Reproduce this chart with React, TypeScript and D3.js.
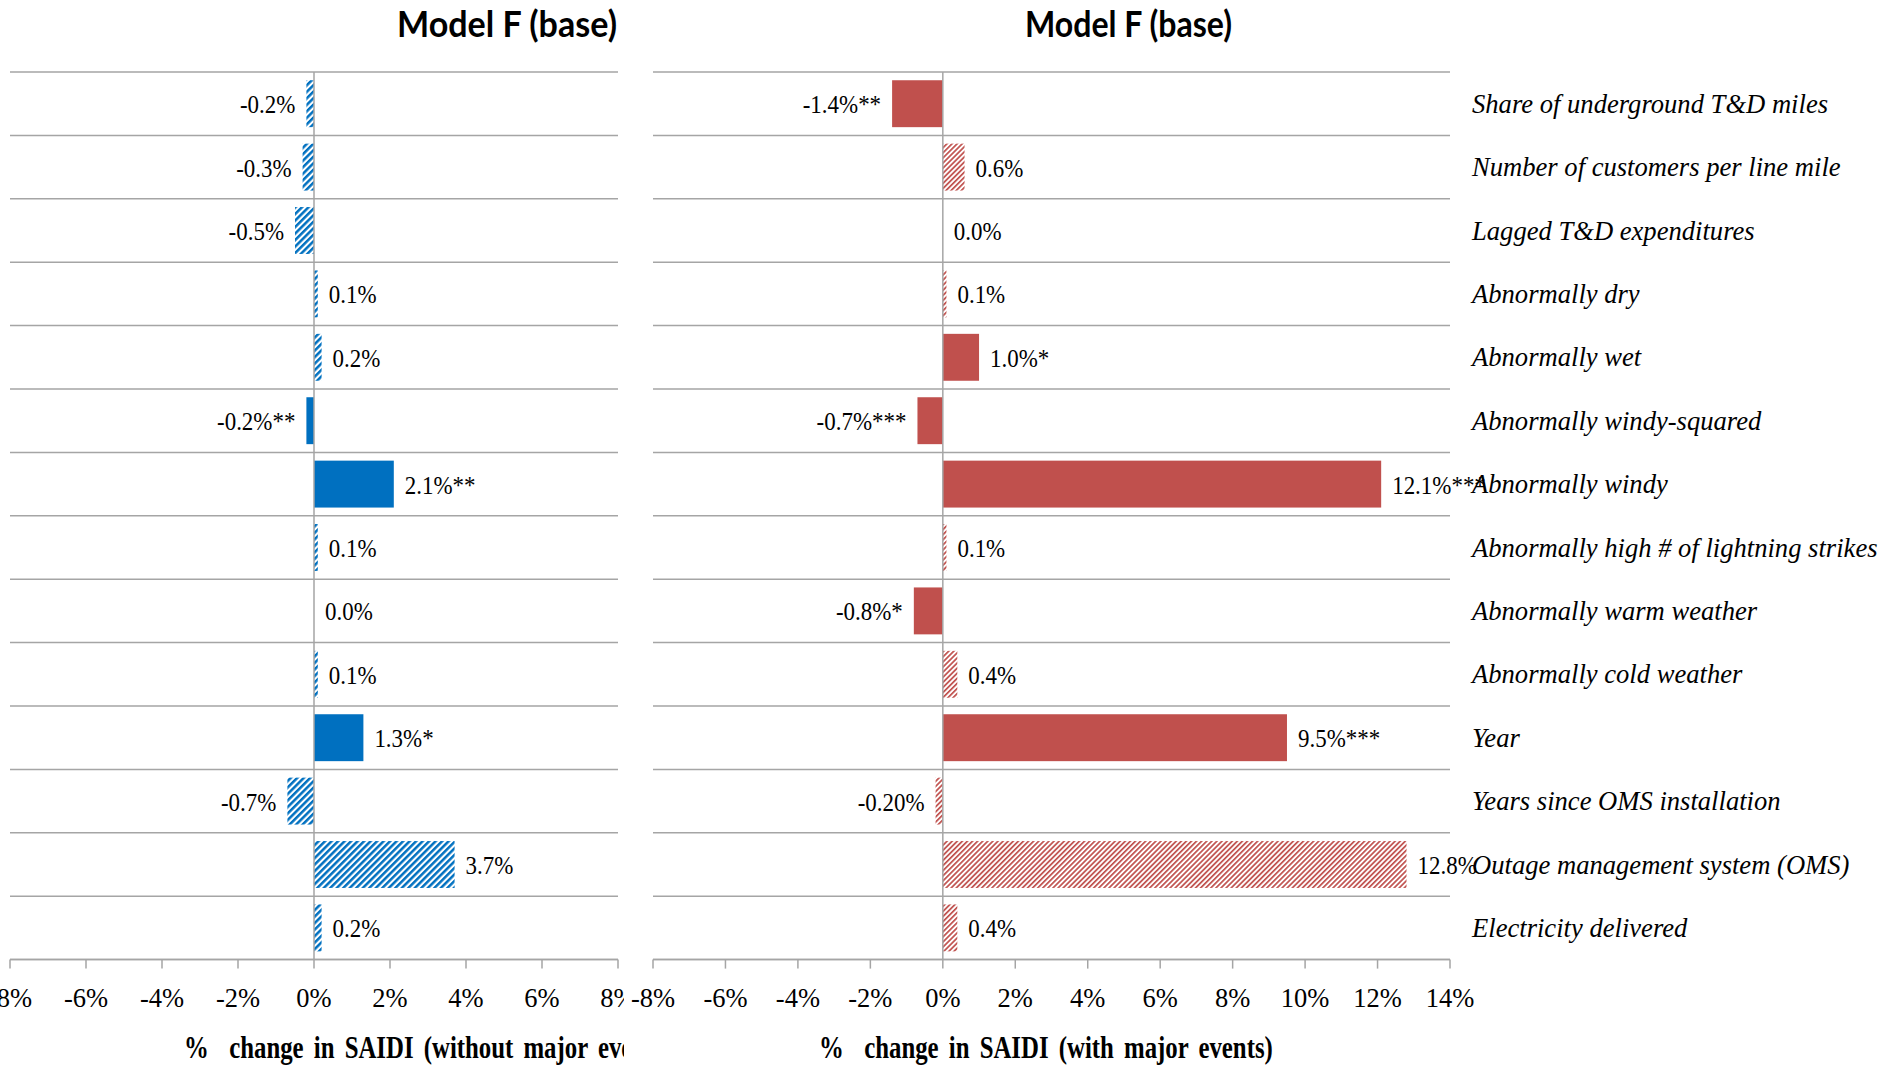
import React from "react";
import * as d3 from "d3";

// Regression covariates, top to bottom
const categories = [
  "Share of underground T&D miles",
  "Number of customers per line mile",
  "Lagged T&D expenditures",
  "Abnormally dry",
  "Abnormally wet",
  "Abnormally windy-squared",
  "Abnormally windy",
  "Abnormally high # of lightning strikes",
  "Abnormally warm weather",
  "Abnormally cold weather",
  "Year",
  "Years since OMS installation",
  "Outage management system (OMS)",
  "Electricity delivered",
];

// % change in SAIDI without major events
const withoutValues = [-0.2, -0.3, -0.5, 0.1, 0.2, -0.2, 2.1, 0.1, 0.0, 0.1, 1.3, -0.7, 3.7, 0.2];
const withoutLabels = ["-0.2%", "-0.3%", "-0.5%", "0.1%", "0.2%", "-0.2%**", "2.1%**", "0.1%", "0.0%", "0.1%", "1.3%*", "-0.7%", "3.7%", "0.2%"];
const withoutSignificant = [false, false, false, false, false, true, true, false, false, false, true, false, false, false];

// % change in SAIDI with major events
const withValues = [-1.4, 0.6, 0.0, 0.1, 1.0, -0.7, 12.1, 0.1, -0.8, 0.4, 9.5, -0.2, 12.8, 0.4];
const withLabels = ["-1.4%**", "0.6%", "0.0%", "0.1%", "1.0%*", "-0.7%***", "12.1%***", "0.1%", "-0.8%*", "0.4%", "9.5%***", "-0.20%", "12.8%", "0.4%"];
const withSignificant = [true, false, false, false, true, true, true, false, true, false, true, false, false, false];

const leftTicks = [-8, -6, -4, -2, 0, 2, 4, 6, 8];
const rightTicks = [-8, -6, -4, -2, 0, 2, 4, 6, 8, 10, 12, 14];

const panelTitle = "Model F (base)";
const leftAxisTitle = "%  change in SAIDI (without major events)";
const rightAxisTitle = "%  change in SAIDI (with major events)";

const W = 1880;
const H = 1066;
const TOP = 72;
const ROW = 63.4;
const BOTTOM = TOP + ROW * categories.length;

const BLUE = "#0070C0";
const RED = "#C0504D";
const GRID = "#A5A5A5";
const SERIF = "'Liberation Serif', 'Times New Roman', serif";

const y = d3
  .scaleBand<string>()
  .domain(categories)
  .range([TOP, BOTTOM])
  .paddingInner(0.26)
  .paddingOuter(0.13);

const rowLines = d3.range(categories.length + 1).map((i) => TOP + i * y.step());

type PanelProps = {
  x: d3.ScaleLinear<number, number>;
  ticks: number[];
  values: number[];
  labels: string[];
  significant: boolean[];
  color: string;
  hatchId: string;
  axisTitle: string;
  axisTitleX: number;
  title: string;
  titleX: number;
  titleWidth: number;
};

function Panel(p: PanelProps) {
  const [x0, x1] = p.x.range();
  const zero = p.x(0);
  return (
    <g>
      <text
        x={p.titleX}
        y={37}
        fontFamily="Lato, 'Open Sans', sans-serif"
        fontWeight={700}
        fontSize={36}
        textLength={p.titleWidth}
        lengthAdjust="spacingAndGlyphs"
        fill="#000"
      >
        {p.title}
      </text>
      {rowLines.map((ly, i) => (
        <line key={"g" + i} x1={x0} x2={x1} y1={ly} y2={ly} stroke={GRID} strokeWidth={1.5} />
      ))}
      {categories.map((c, i) => {
        const v = p.values[i];
        const bx = Math.min(p.x(v), zero);
        const bw = Math.abs(p.x(v) - zero);
        const by = y(c) as number;
        return bw > 0 ? (
          <rect
            key={"b" + i}
            x={bx}
            y={by}
            width={bw}
            height={y.bandwidth()}
            fill={p.significant[i] ? p.color : `url(#${p.hatchId})`}
          />
        ) : null;
      })}
      <line x1={zero} x2={zero} y1={TOP} y2={BOTTOM} stroke={GRID} strokeWidth={1.5} />
      <line x1={x0} x2={x1} y1={BOTTOM} y2={BOTTOM} stroke={GRID} strokeWidth={1.5} />
      {p.ticks.map((t) => (
        <g key={"t" + t}>
          <line x1={p.x(t)} x2={p.x(t)} y1={BOTTOM} y2={BOTTOM + 9} stroke={GRID} strokeWidth={1.5} />
          <text x={p.x(t)} y={1007} textAnchor="middle" fontFamily={SERIF} fontSize={26.5} fill="#000">
            {`${t}%`}
          </text>
        </g>
      ))}
      {categories.map((c, i) => {
        const v = p.values[i];
        const neg = v < 0;
        const lx = neg ? p.x(v) - 11 : p.x(v) + 11;
        const ly = (y(c) as number) + y.bandwidth() / 2 + 9.5;
        return (
          <g key={"l" + i} transform={`translate(${lx},${ly})`}>
            <text
              transform="scale(0.9,1)"
              textAnchor={neg ? "end" : "start"}
              fontFamily={SERIF}
              fontSize={25.5}
              fill="#000"
            >
              {p.labels[i]}
            </text>
          </g>
        );
      })}
      <g transform={`translate(${p.axisTitleX},1058)`}>
        <text
          transform="scale(0.8,1)"
          textAnchor="start"
          fontFamily={SERIF}
          fontWeight={700}
          fontSize={31}
          wordSpacing={5}
          fill="#000"
          style={{ whiteSpace: "pre" }}
        >
          {p.axisTitle}
        </text>
      </g>
    </g>
  );
}

export default function App() {
  const xLeft = d3.scaleLinear().domain([-8, 8]).range([10, 618]);
  const xRight = d3.scaleLinear().domain([-8, 14]).range([653, 1450]);

  return (
    <svg
      width={W}
      height={H}
      style={{ position: "absolute", left: 0, top: 0, background: "#fff" }}
    >
      <defs>
        <pattern
          id="hatchBlue"
          patternUnits="userSpaceOnUse"
          width={4.6}
          height={4.6}
          patternTransform="rotate(45)"
        >
          <rect x={0} y={0} width={4.6} height={4.6} fill="#fff" />
          <rect x={0} y={0} width={2.5} height={4.6} fill={BLUE} />
        </pattern>
        <pattern
          id="hatchRed"
          patternUnits="userSpaceOnUse"
          width={3.6}
          height={3.6}
          patternTransform="rotate(45)"
        >
          <rect x={0} y={0} width={3.6} height={3.6} fill="#fff" />
          <rect x={0} y={0} width={1.7} height={3.6} fill={RED} />
        </pattern>
        <clipPath id="leftClip">
          <rect x={0} y={0} width={624} height={H} />
        </clipPath>
      </defs>
      <rect x={0} y={0} width={W} height={H} fill="#fff" />
      <g clipPath="url(#leftClip)">
        <Panel
          x={xLeft}
          ticks={leftTicks}
          values={withoutValues}
          labels={withoutLabels}
          significant={withoutSignificant}
          color={BLUE}
          hatchId="hatchBlue"
          axisTitle={leftAxisTitle}
          axisTitleX={184}
          title={panelTitle}
          titleX={397}
          titleWidth={220}
        />
      </g>
      <Panel
        x={xRight}
        ticks={rightTicks}
        values={withValues}
        labels={withLabels}
        significant={withSignificant}
        color={RED}
        hatchId="hatchRed"
        axisTitle={rightAxisTitle}
        axisTitleX={819}
        title={panelTitle}
        titleX={1025}
        titleWidth={207}
      />
      {categories.map((c) => (
        <text
          key={c}
          x={1472}
          y={(y(c) as number) + y.bandwidth() / 2 + 9}
          fontFamily={SERIF}
          fontStyle="italic"
          fontSize={26.6}
          fill="#000"
        >
          {c}
        </text>
      ))}
    </svg>
  );
}
